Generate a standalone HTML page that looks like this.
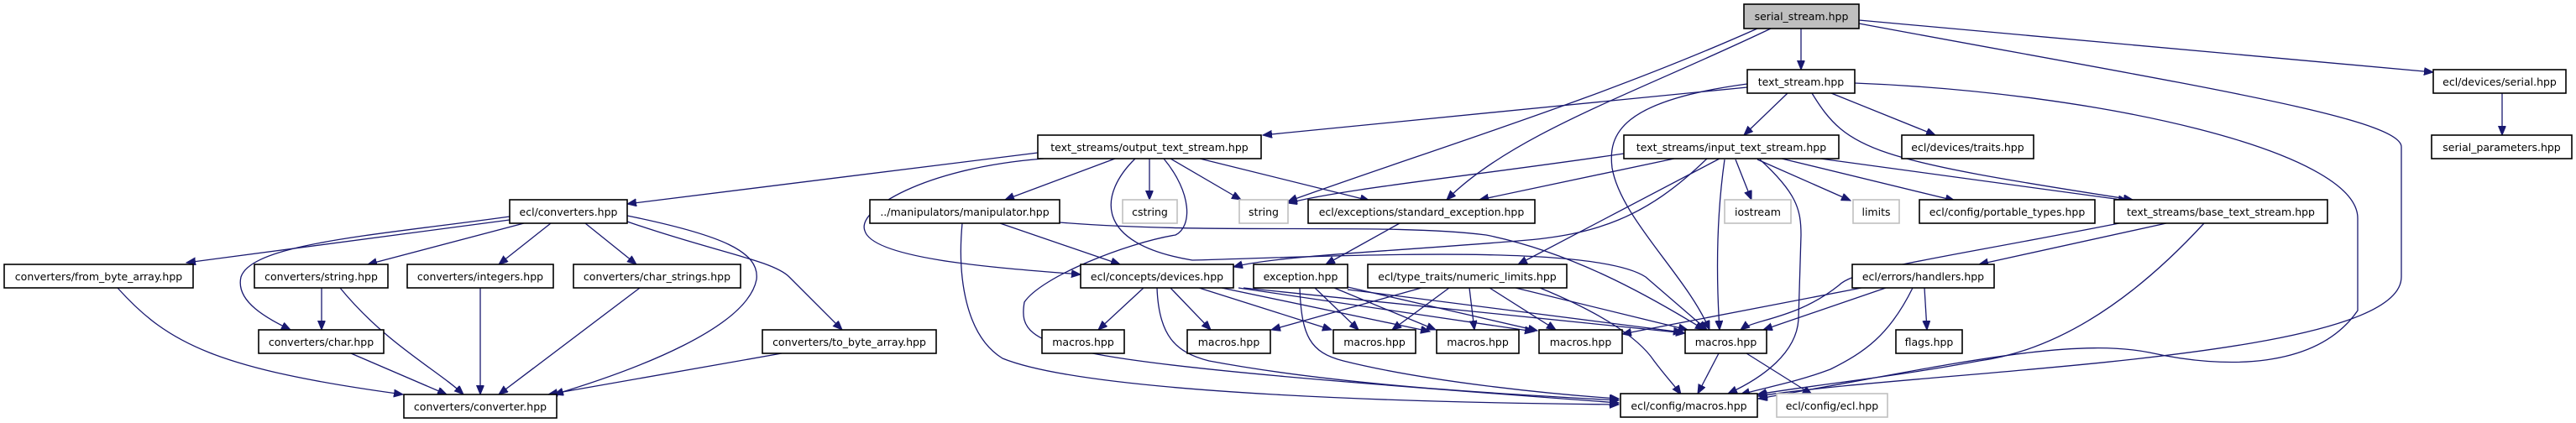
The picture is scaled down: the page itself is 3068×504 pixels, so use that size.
<!DOCTYPE html>
<html><head><meta charset="utf-8"><style>
html,body{margin:0;padding:0;background:#fff;}
svg{display:block;}
text{font-family:"DejaVu Sans","Liberation Sans",sans-serif;font-size:12.5px;fill:#000;}
.e{fill:none;stroke:#191970;stroke-width:1.3;marker-end:url(#a);}
.n{fill:#fff;stroke:#000;stroke-width:1.6;}
.g{fill:#fff;stroke:#bfbfbf;stroke-width:1.6;}
</style></head><body>
<svg width="3068" height="504" viewBox="0 0 3068 504" xmlns="http://www.w3.org/2000/svg">
<defs><marker id="a" markerUnits="userSpaceOnUse" markerWidth="12" markerHeight="10" refX="11" refY="4.5" orient="auto"><path d="M0,0 L11,4.5 L0,9 z" fill="#191970" stroke="#191970"/></marker></defs>

<!-- edges -->
<path class="e" d="M2145,34 L2145,83"/>
<path class="e" d="M2093,34 C1900,120 1700,180 1534,240"/>
<path class="e" d="M2109,34 C1950,110 1800,160 1723,238"/>
<path class="e" d="M2214,24 L2898,86"/>
<path class="e" d="M2214,28 C2600,100 2860,140 2860,175 L2860,330 C2860,430 2300,440 2094,472"/>
<path class="e" d="M2081,104 L1504,161"/>
<path class="e" d="M2129,111 L2077,161"/>
<path class="e" d="M2181,111 L2305,161"/>
<path class="e" d="M2158,111 C2200,180 2230,190 2540,238"/>
<path class="e" d="M2081,100 C1930,120 1915,160 1920,200 C1930,260 2010,330 2036,393"/>
<path class="e" d="M2209,99 C2500,110 2808,180 2808,260 L2808,370 C2760,440 2650,440 2560,420 C2460,400 2300,440 2094,475"/>
<path class="e" d="M1236,182 C1000,210 800,235 747,243"/>
<path class="e" d="M1243,189 C1100,200 1020,250 1030,275 C1040,310 1200,320 1287,327"/>
<path class="e" d="M1328,189 L1197,238"/>
<path class="e" d="M1369,189 L1369,238"/>
<path class="e" d="M1394,189 L1478,238"/>
<path class="e" d="M1429,189 L1631,239"/>
<path class="e" d="M1352,189 C1310,230 1300,290 1420,310 C1600,305 1900,290 1960,330 L2033,393"/>
<path class="e" d="M1386,189 C1420,230 1420,270 1400,280 C1340,290 1240,330 1220,360 C1210,420 1250,430 1928,480"/>
<path class="e" d="M1191,266 L1334,315"/>
<path class="e" d="M1262,265 C1450,280 1650,265 1770,280 C1870,300 1960,350 2030,393"/>
<path class="e" d="M1146,266 C1140,330 1150,400 1194,427 C1300,470 1700,480 1928,482"/>
<path class="e" d="M607,262 L222,313"/>
<path class="e" d="M624,266 L438,315"/>
<path class="e" d="M656,266 L594,315"/>
<path class="e" d="M697,266 L758,315"/>
<path class="e" d="M607,258 C450,280 300,290 287,330 C280,360 320,380 346,393"/>
<path class="e" d="M747,264 C850,300 920,310 940,330 C970,360 990,380 1003,393"/>
<path class="e" d="M747,257 C860,280 905,300 901,333 C890,390 760,440 660,470"/>
<path class="e" d="M140,343 C200,410 260,440 480,470"/>
<path class="e" d="M383,343 L383,393"/>
<path class="e" d="M405,343 C460,410 520,440 552,470"/>
<path class="e" d="M572,343 L572,470"/>
<path class="e" d="M762,343 L594,470"/>
<path class="e" d="M418,421 L532,470"/>
<path class="e" d="M931,421 L653,470"/>
<path class="e" d="M1667,266 L1579,315"/>
<path class="e" d="M1362,343 L1308,393"/>
<path class="e" d="M1394,343 L1442,393"/>
<path class="e" d="M1428,343 L1586,393"/>
<path class="e" d="M1455,343 L1703,395"/>
<path class="e" d="M1475,343 L1827,395"/>
<path class="e" d="M1481,343 L2007,397"/>
<path class="e" d="M1378,343 C1380,400 1400,420 1440,430 C1600,460 1800,470 1928,477"/>
<path class="e" d="M1566,343 L1618,393"/>
<path class="e" d="M1589,343 L1710,393"/>
<path class="e" d="M1605,342 L1831,394"/>
<path class="e" d="M1605,345 L2004,396"/>
<path class="e" d="M1548,343 C1550,400 1560,420 1600,430 C1700,455 1850,470 1928,475"/>
<path class="e" d="M1693,343 L1514,393"/>
<path class="e" d="M1726,343 L1658,393"/>
<path class="e" d="M1750,343 L1756,393"/>
<path class="e" d="M1774,343 L1853,393"/>
<path class="e" d="M1805,343 L2010,393"/>
<path class="e" d="M1834,343 C1900,370 1950,400 1970,430 C1985,450 1995,460 2002,470"/>
<path class="e" d="M1934,183 C1750,210 1600,225 1534,242"/>
<path class="e" d="M1994,189 L1762,238"/>
<path class="e" d="M2033,189 C1960,260 1900,280 1808,287 C1650,300 1520,305 1469,318"/>
<path class="e" d="M2048,189 L1808,315"/>
<path class="e" d="M2054,190 C2044,260 2044,330 2048,393"/>
<path class="e" d="M2067,190 L2086,238"/>
<path class="e" d="M2093,190 L2204,239"/>
<path class="e" d="M2122,189 L2328,239"/>
<path class="e" d="M2168,189 L2534,239"/>
<path class="e" d="M2096,190 C2140,230 2145,250 2145,280 L2142,380 C2140,420 2100,450 2058,469"/>
<path class="e" d="M2524,266 C2300,310 2210,320 2190,340 C2140,380 2090,380 2073,393"/>
<path class="e" d="M2580,266 L2357,315"/>
<path class="e" d="M2625,266 C2520,380 2430,420 2357,430 C2250,450 2150,460 2093,470"/>
<path class="e" d="M2217,343 L1932,398"/>
<path class="e" d="M2246,343 L2100,393"/>
<path class="e" d="M2292,343 L2295,393"/>
<path class="e" d="M2278,343 C2250,400 2220,420 2180,440 C2140,455 2110,460 2073,470"/>
<path class="e" d="M2047,421 L2022,469"/>
<path class="e" d="M2080,421 L2158,470"/>
<path class="e" d="M2980,111 L2980,161"/>

<!-- nodes -->
<rect x="2077" y="5" width="137" height="29" fill="#bfbfbf" stroke="#000" stroke-width="1.6"/><text x="2145.5" y="24" text-anchor="middle">serial_stream.hpp</text>
<rect class="n" x="2081" y="83" width="128" height="28"/><text x="2145" y="102" text-anchor="middle">text_stream.hpp</text>
<rect class="n" x="2898" y="83" width="158" height="28"/><text x="2977" y="102" text-anchor="middle">ecl/devices/serial.hpp</text>
<rect class="n" x="2896" y="161" width="167" height="28"/><text x="2979.5" y="180" text-anchor="middle">serial_parameters.hpp</text>
<rect class="n" x="1236" y="161" width="266" height="28"/><text x="1369" y="180" text-anchor="middle">text_streams/output_text_stream.hpp</text>
<rect class="n" x="1934" y="161" width="256" height="28"/><text x="2062" y="180" text-anchor="middle">text_streams/input_text_stream.hpp</text>
<rect class="n" x="2265" y="161" width="157" height="28"/><text x="2343.5" y="180" text-anchor="middle">ecl/devices/traits.hpp</text>
<rect class="n" x="607" y="238" width="140" height="28"/><text x="677" y="257" text-anchor="middle">ecl/converters.hpp</text>
<rect class="n" x="1036" y="238" width="226" height="28"/><text x="1149" y="257" text-anchor="middle">../manipulators/manipulator.hpp</text>
<rect class="g" x="1337" y="238" width="65" height="28"/><text x="1369.5" y="257" text-anchor="middle">cstring</text>
<rect class="g" x="1476" y="238" width="58" height="28"/><text x="1505" y="257" text-anchor="middle">string</text>
<rect class="n" x="1558" y="238" width="270" height="28"/><text x="1693" y="257" text-anchor="middle">ecl/exceptions/standard_exception.hpp</text>
<rect class="g" x="2054" y="238" width="79" height="28"/><text x="2093.5" y="257" text-anchor="middle">iostream</text>
<rect class="g" x="2207" y="238" width="55" height="28"/><text x="2234.5" y="257" text-anchor="middle">limits</text>
<rect class="n" x="2286" y="238" width="209" height="28"/><text x="2390.5" y="257" text-anchor="middle">ecl/config/portable_types.hpp</text>
<rect class="n" x="2518" y="238" width="254" height="28"/><text x="2645" y="257" text-anchor="middle">text_streams/base_text_stream.hpp</text>
<rect class="n" x="5" y="315" width="225" height="28"/><text x="117.5" y="334" text-anchor="middle">converters/from_byte_array.hpp</text>
<rect class="n" x="303" y="315" width="159" height="28"/><text x="382.5" y="334" text-anchor="middle">converters/string.hpp</text>
<rect class="n" x="485" y="315" width="174" height="28"/><text x="572" y="334" text-anchor="middle">converters/integers.hpp</text>
<rect class="n" x="683" y="315" width="199" height="28"/><text x="782.5" y="334" text-anchor="middle">converters/char_strings.hpp</text>
<rect class="n" x="1287" y="315" width="182" height="28"/><text x="1378" y="334" text-anchor="middle">ecl/concepts/devices.hpp</text>
<rect class="n" x="1493" y="315" width="112" height="28"/><text x="1549" y="334" text-anchor="middle">exception.hpp</text>
<rect class="n" x="1629" y="315" width="237" height="28"/><text x="1747.5" y="334" text-anchor="middle">ecl/type_traits/numeric_limits.hpp</text>
<rect class="n" x="2206" y="315" width="169" height="28"/><text x="2290.5" y="334" text-anchor="middle">ecl/errors/handlers.hpp</text>
<rect class="n" x="308" y="393" width="149" height="28"/><text x="382.5" y="412" text-anchor="middle">converters/char.hpp</text>
<rect class="n" x="908" y="393" width="207" height="28"/><text x="1011.5" y="412" text-anchor="middle">converters/to_byte_array.hpp</text>
<rect class="n" x="1241" y="393" width="98" height="28"/><text x="1290" y="412" text-anchor="middle">macros.hpp</text>
<rect class="n" x="1414" y="393" width="99" height="28"/><text x="1463.5" y="412" text-anchor="middle">macros.hpp</text>
<rect class="n" x="1588" y="393" width="98" height="28"/><text x="1637" y="412" text-anchor="middle">macros.hpp</text>
<rect class="n" x="1711" y="393" width="98" height="28"/><text x="1760" y="412" text-anchor="middle">macros.hpp</text>
<rect class="n" x="1833" y="393" width="99" height="28"/><text x="1882.5" y="412" text-anchor="middle">macros.hpp</text>
<rect class="n" x="2007" y="393" width="97" height="28"/><text x="2055.5" y="412" text-anchor="middle">macros.hpp</text>
<rect class="n" x="2258" y="393" width="79" height="28"/><text x="2297.5" y="412" text-anchor="middle">flags.hpp</text>
<rect class="n" x="481" y="470" width="182" height="28"/><text x="572" y="489" text-anchor="middle">converters/converter.hpp</text>
<rect class="n" x="1930" y="469" width="163" height="28"/><text x="2011.5" y="488" text-anchor="middle">ecl/config/macros.hpp</text>
<rect class="g" x="2116" y="469" width="132" height="28"/><text x="2182" y="488" text-anchor="middle">ecl/config/ecl.hpp</text>
</svg>
</body></html>
